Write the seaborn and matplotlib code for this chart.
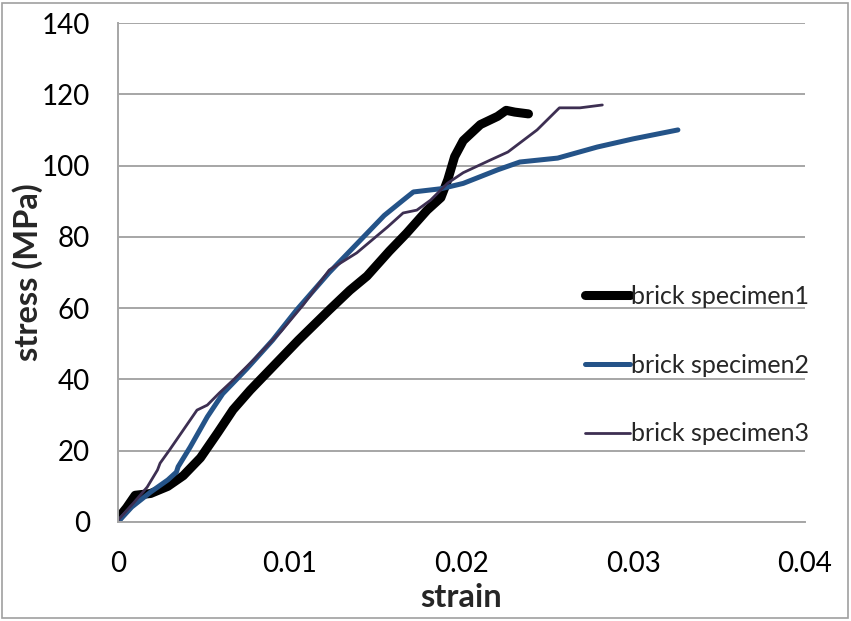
import matplotlib
matplotlib.use("Agg")
import matplotlib.pyplot as plt
from matplotlib.patches import Rectangle
import seaborn as sns
import pandas as pd

# Stress-strain readings for three brick specimens
strain_1 = [0, 0.0005, 0.001, 0.0019, 0.0029, 0.0038, 0.0048, 0.0058, 0.0067, 0.0077,
            0.009, 0.0105, 0.0123, 0.0135, 0.0145, 0.0158, 0.0168, 0.018, 0.0188,
            0.0192, 0.0196, 0.0201, 0.0211, 0.0221, 0.0226, 0.0231, 0.0239]
stress_1 = [1, 4, 7.5, 8, 10, 13, 18, 25, 31.5, 37,
            43.5, 51, 59.5, 65, 69, 76, 81, 87.5, 91,
            96, 102.5, 107, 111.5, 113.8, 115.5, 115, 114.5]

strain_2 = [0, 0.0008, 0.0019, 0.0029, 0.0034, 0.0035, 0.0042, 0.0052, 0.0061, 0.0075,
            0.009, 0.0104, 0.0123, 0.0143, 0.0155, 0.0166, 0.0172, 0.0188, 0.0201,
            0.0221, 0.0234, 0.0256, 0.0279, 0.030, 0.0326]
stress_2 = [0, 4.2, 8.4, 11.8, 14, 15.5, 21, 29.5, 36, 43,
            51, 59.5, 70, 80, 86, 90.3, 92.6, 93.5, 95,
            98.8, 101, 102.1, 105.2, 107.5, 110]

strain_3 = [0, 0.0009, 0.0017, 0.0023, 0.00245, 0.003, 0.0038, 0.0046, 0.0052, 0.0059,
            0.0067, 0.008, 0.0095, 0.0108, 0.0123, 0.0139, 0.0157, 0.0166, 0.0174,
            0.0182, 0.0192, 0.0201, 0.0217, 0.0227, 0.0244, 0.0257, 0.0269, 0.0282]
stress_3 = [0.5, 5.3, 9.8, 14.6, 16.5, 20.2, 25.8, 31.4, 32.8, 36.2,
            39.8, 46, 53.5, 61, 70.7, 75.5, 82.8, 86.7, 87.5,
            90.3, 95.1, 98, 101.6, 103.8, 110, 116.2, 116.2, 117]

labels = ["brick specimen1", "brick specimen2", "brick specimen3"]
colors = ["#000000", "#245388", "#3D2F52"]
widths = [6.5, 3.6, 2.0]

x_ticks = [0, 0.01, 0.02, 0.03, 0.04]
x_tick_labels = ["0", "0.01", "0.02", "0.03", "0.04"]
y_ticks = [0, 20, 40, 60, 80, 100, 120, 140]

frames = []
for lab, xs, ys in zip(labels, [strain_1, strain_2, strain_3], [stress_1, stress_2, stress_3]):
    frames.append(pd.DataFrame({"strain": xs, "stress": ys, "specimen": lab, "order": range(len(xs))}))
df = pd.concat(frames, ignore_index=True)

sns.set_style("white")
plt.rcParams["font.family"] = ["Lato", "DejaVu Sans"]

fig = plt.figure(figsize=(8.51, 6.21), dpi=100)
ax = fig.add_axes([118 / 851, 1 - 522 / 621, (805 - 118) / 851, (522 - 23) / 621])

for lab, col, lw in zip(labels, colors, widths):
    sub = df[df["specimen"] == lab]
    sns.lineplot(data=sub, x="strain", y="stress", sort=False, estimator=None,
                 color=col, linewidth=lw, label=lab, ax=ax,
                 solid_capstyle="round", solid_joinstyle="round")

ax.set_xlim(0, 0.04)
ax.set_ylim(0, 140)
ax.set_xticks(x_ticks)
ax.set_xticklabels(x_tick_labels)
ax.set_yticks(y_ticks)
ax.yaxis.grid(True, color="#A6A6A6", linewidth=1.4)
ax.xaxis.grid(False)
ax.set_axisbelow(True)
for side in ["top", "right"]:
    ax.spines[side].set_visible(False)
for side in ["left", "bottom"]:
    ax.spines[side].set_color("#A6A6A6")
    ax.spines[side].set_linewidth(1.4)
ax.tick_params(axis="both", length=0, labelsize=20, colors="#000000")
ax.tick_params(axis="x", pad=21)
ax.tick_params(axis="y", pad=20)

label_font = {"family": ["Lato", "DejaVu Sans"], "size": 23.5, "weight": "bold"}
ax.set_xlabel("strain", fontdict=label_font, labelpad=4)
ax.set_ylabel("stress (MPa)", fontdict=label_font, labelpad=-1)

leg = ax.legend(loc="upper left", bbox_to_anchor=(0.665, 0.495), frameon=False,
                prop={"family": ["Lato", "DejaVu Sans"], "size": 18},
                handlelength=1.8, handletextpad=0.05,
                labelspacing=1.83, borderaxespad=0)
for line, lw in zip(leg.get_lines(), widths):
    line.set_linewidth(lw)
    line.set_solid_capstyle("round")

fig.patches.append(Rectangle((2 / 851, 3 / 621), 846 / 851, 615 / 621, transform=fig.transFigure,
                             fill=False, edgecolor="#A0A0A0", linewidth=1.2))

fig.savefig("out.png", dpi=100, facecolor="white")
